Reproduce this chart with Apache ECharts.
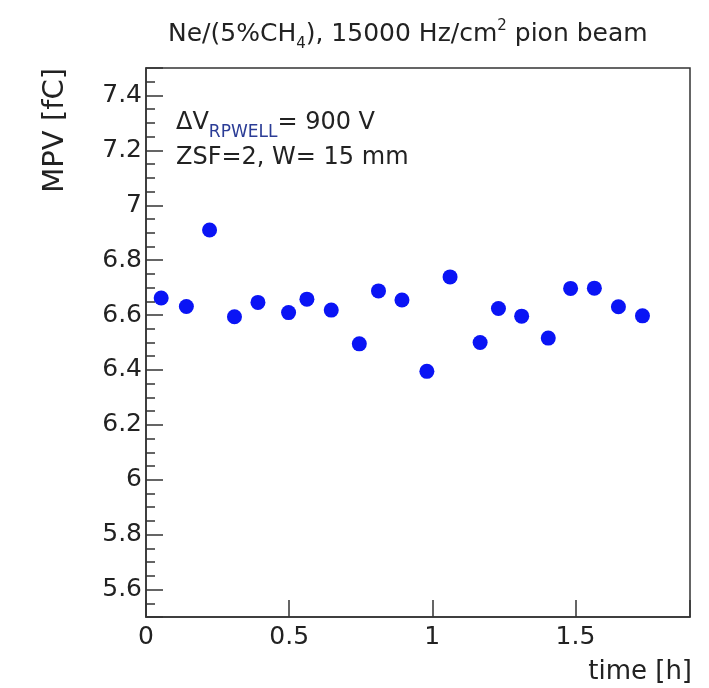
<!DOCTYPE html>
<html>
<head>
<meta charset="utf-8">
<script src="https://cdn.jsdelivr.net/npm/echarts@6/dist/echarts.min.js"></script>
<style>
  html, body { margin: 0; padding: 0; background: #fff; }
  #chart { width: 709px; height: 688px; }
</style>
</head>
<body>
<div id="chart"></div>
<script>
// measured points: time [h] and MPV [fC]
var timeHours = [0.053, 0.141, 0.222, 0.309, 0.391, 0.498, 0.562, 0.647, 0.745, 0.812, 0.894,
  0.981, 1.062, 1.167, 1.231, 1.312, 1.405, 1.483, 1.566, 1.650, 1.734]
var mpvValues = [6.662, 6.631, 6.910, 6.594, 6.646, 6.609, 6.658, 6.618, 6.495, 6.688, 6.655,
  6.395, 6.739, 6.500, 6.624, 6.596, 6.516, 6.697, 6.698, 6.630, 6.597]
var xTickLabels = [0, 0.5, 1, 1.5]
var yTickLabels = [5.6, 5.8, 6, 6.2, 6.4, 6.6, 6.8, 7, 7.2, 7.4]

var font = 'DejaVu Sans'
var ink = '#222'
var frame = '#333'

var chart = echarts.init(document.getElementById('chart'))

var points = timeHours.map(function (t, i) { return [t, mpvValues[i]] })

function pickLabel(list) {
  return function (value) {
    for (var i = 0; i < list.length; i++) {
      if (Math.abs(list[i] - value) < 1e-6) return String(list[i])
    }
    return ''
  }
}

chart.setOption({
  animation: false,
  backgroundColor: '#fff',
  title: {
    left: 163,
    top: 14,
    text: '{m|Ne/(5%CH}{sub|4}{m|), 15000 Hz/cm}{sup|2}{m| pion beam}',
    textStyle: {
      fontWeight: 'normal',
      rich: {
        m: { fontFamily: font, fontWeight: 'normal', fontSize: 25, lineHeight: 30, color: ink },
        sub: { fontFamily: font, fontWeight: 'normal', fontSize: 15, lineHeight: 15, color: ink, padding: [20, 0, 0, 0] },
        sup: { fontFamily: font, fontWeight: 'normal', fontSize: 15, lineHeight: 15, color: ink, padding: [0, 0, 16, 0] }
      }
    }
  },
  grid: {
    left: 146,
    right: 19,
    top: 68,
    bottom: 71,
    show: true,
    borderColor: frame,
    borderWidth: 1.5,
    backgroundColor: 'transparent'
  },
  xAxis: {
    type: 'value',
    min: 0,
    max: 1.9,
    interval: 0.5,
    axisLine: { lineStyle: { color: frame, width: 1.5 } },
    axisTick: { inside: true, length: 17, lineStyle: { color: frame, width: 1.5 } },
    splitLine: { show: false },
    axisLabel: {
      margin: 8,
      fontFamily: font,
      fontSize: 25,
      color: ink,
      formatter: pickLabel(xTickLabels)
    }
  },
  yAxis: [{
    type: 'value',
    min: 5.5,
    max: 7.5,
    splitNumber: 10,
    axisLine: { lineStyle: { color: frame, width: 1.5 } },
    axisTick: { inside: true, length: 17, lineStyle: { color: frame, width: 1.5 } },
    splitLine: { show: false },
    axisLabel: {
      margin: 4,
      padding: [8, 0, 0, 0],
      fontFamily: font,
      fontSize: 25,
      color: ink,
      formatter: pickLabel(yTickLabels)
    }
  }, {
    // minor ticks every 0.05
    type: 'value',
    position: 'left',
    min: 5.5,
    max: 7.5,
    interval: 0.05,
    axisLine: { show: false },
    axisTick: { inside: true, length: 9, lineStyle: { color: frame, width: 1.5 } },
    axisLabel: { show: false },
    splitLine: { show: false }
  }],
  graphic: [{
    type: 'text',
    x: 176,
    y: 105,
    style: {
      text: '{m|ΔV}{s|RPWELL}{m|= 900 V}\n{m|ZSF=2, W= 15 mm}',
      align: 'left',
      verticalAlign: 'top',
      rich: {
        m: { fontFamily: font, fontSize: 24, lineHeight: 35, fill: ink },
        s: { fontFamily: font, fontSize: 17, lineHeight: 17, fill: '#2b3c96', padding: [20, 0, 0, 0] }
      }
    }
  }, {
    type: 'text',
    x: 55,
    y: 68,
    rotation: Math.PI / 2,
    style: {
      text: 'MPV [fC]',
      align: 'right',
      verticalAlign: 'middle',
      fontFamily: font,
      fontSize: 29,
      fill: ink
    }
  }, {
    type: 'text',
    x: 692,
    y: 672,
    style: {
      text: 'time [h]',
      align: 'right',
      verticalAlign: 'middle',
      fontFamily: font,
      fontSize: 26,
      fill: ink
    }
  }],
  series: [{
    type: 'scatter',
    data: points,
    symbol: 'circle',
    symbolSize: 15,
    itemStyle: { color: '#0a14f5', opacity: 1 }
  }]
})
</script>
</body>
</html>
